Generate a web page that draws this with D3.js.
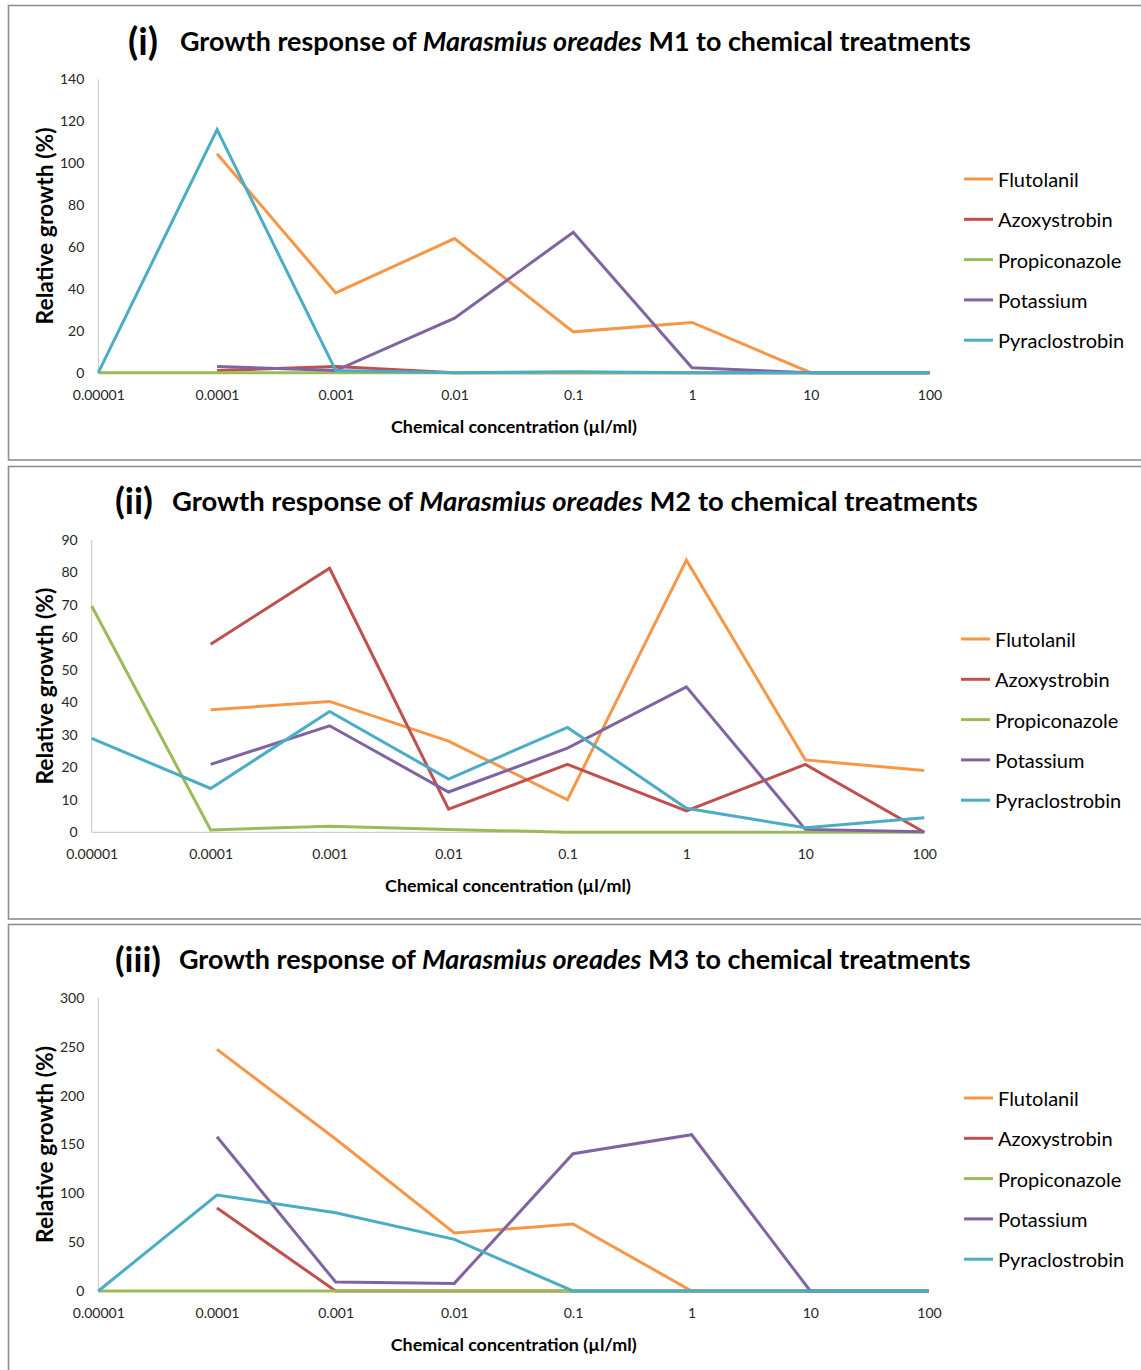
<!DOCTYPE html>
<html>
<head>
<meta charset="utf-8">
<script src="https://cdn.jsdelivr.net/npm/d3@7"></script>
<style>
  html, body { margin: 0; padding: 0; background: #fff; }
  svg { display: block; font-family: Lato, "Open Sans", sans-serif; }
</style>
</head>
<body>
<svg id="chart" width="1141" height="1370"></svg>
<script>
// ---------- DATA ----------
const categories = ["0.00001", "0.0001", "0.001", "0.01", "0.1", "1", "10", "100"];
const seriesNames = ["Flutolanil", "Azoxystrobin", "Propiconazole", "Potassium", "Pyraclostrobin"];
const seriesColors = ["#F79646", "#C0504D", "#9BBB59", "#8064A2", "#4BACC6"];

// M1
const m1Flutolanil     = [null, 104.5, 38.1, 64.0, 19.5, 24.0, 0, 0];
const m1Azoxystrobin   = [null, 1.0, 3.0, 0, 0, 0, 0, 0];
const m1Propiconazole  = [0, 0, 0, 0, 0, 0, 0, 0];
const m1Potassium      = [null, 3.0, 1.0, 26.0, 67.0, 2.4, 0, 0];
const m1Pyraclostrobin = [0, 116.0, 1.0, 0, 0.5, 0, 0, 0];
const m1Ticks = [0, 20, 40, 60, 80, 100, 120, 140];

// M2
const m2Flutolanil     = [null, 37.7, 40.3, 28.1, 10.0, 83.8, 22.3, 19.0];
const m2Azoxystrobin   = [null, 57.9, 81.3, 7.1, 20.9, 6.6, 20.9, 0];
const m2Propiconazole  = [69.7, 0.7, 1.9, 0.9, 0, 0, 0, 0];
const m2Potassium      = [null, 20.9, 32.8, 12.4, 25.9, 44.8, 0.9, 0.2];
const m2Pyraclostrobin = [28.9, 13.5, 37.2, 16.4, 32.3, 7.4, 1.4, 4.5];
const m2Ticks = [0, 10, 20, 30, 40, 50, 60, 70, 80, 90];

// M3
const m3Flutolanil     = [null, 247.4, 155.6, 59.4, 68.6, 0, 0, 0];
const m3Azoxystrobin   = [null, 85.0, 0, 0, 0, 0, 0, 0];
const m3Propiconazole  = [0, 0, 0, 0, 0, 0, 0, 0];
const m3Potassium      = [null, 158.0, 9.2, 7.8, 140.6, 160.0, 0, 0];
const m3Pyraclostrobin = [0, 98.3, 80.2, 52.9, 0, 0, 0, 0];
const m3Ticks = [0, 50, 100, 150, 200, 250, 300];

const panelPrefixes = ["(i)", "(ii)", "(iii)"];
const panelStrains = ["M1", "M2", "M3"];

// ---------- LAYOUT (code, not data) ----------
const panels = [
  { series: [m1Flutolanil, m1Azoxystrobin, m1Propiconazole, m1Potassium, m1Pyraclostrobin], ticks: m1Ticks,
    box: [8.5, 5.5, 460], x0: 98.3, x1: 929.5, yTop: 79.3, yBot: 372.7,
    prefixX: 128, prefixW: 30, titleX: 180, titleW: 791, titleY: 40, legX: 964, legY: 179 },
  { series: [m2Flutolanil, m2Azoxystrobin, m2Propiconazole, m2Potassium, m2Pyraclostrobin], ticks: m2Ticks,
    box: [8.5, 466.5, 919], x0: 91.7, x1: 924.3, yTop: 540, yBot: 832.3,
    prefixX: 115, prefixW: 38, titleX: 172, titleW: 806, titleY: 500, legX: 961, legY: 639 },
  { series: [m3Flutolanil, m3Azoxystrobin, m3Propiconazole, m3Potassium, m3Pyraclostrobin], ticks: m3Ticks,
    box: [8.5, 924.5, 1400], x0: 98.3, x1: 929, yTop: 998, yBot: 1291,
    prefixX: 115, prefixW: 46, titleX: 179, titleW: 792, titleY: 958, legX: 964, legY: 1098 }
];

const svg = d3.select("#chart");

function fitWidth(sel, target) {
  const node = sel.node();
  const fs = parseFloat(sel.attr("font-size"));
  const len = node.getComputedTextLength();
  if (len > 0) sel.attr("font-size", fs * target / len);
}

panels.forEach((p, pi) => {
  const g = svg.append("g");

  // border
  g.append("rect")
    .attr("x", p.box[0]).attr("y", p.box[1])
    .attr("width", 1160).attr("height", p.box[2] - p.box[1])
    .attr("fill", "none").attr("stroke", "#8f8f8f").attr("stroke-width", 1.6);

  const x = d3.scalePoint().domain(categories).range([p.x0, p.x1]);
  const y = d3.scaleLinear().domain([0, d3.max(p.ticks)]).range([p.yBot, p.yTop]);

  // axis lines
  g.append("line").attr("x1", p.x0).attr("x2", p.x0).attr("y1", p.yTop).attr("y2", p.yBot)
    .attr("stroke", "#c6c6c6").attr("stroke-width", 1);
  g.append("line").attr("x1", p.x0).attr("x2", p.x1).attr("y1", p.yBot).attr("y2", p.yBot)
    .attr("stroke", "#c6c6c6").attr("stroke-width", 1);

  // y axis
  const ya = g.append("g").call(d3.axisLeft(y).tickValues(p.ticks).tickSize(0).tickPadding(14))
    .attr("transform", `translate(${p.x0},0)`);
  ya.select(".domain").remove();
  ya.selectAll("text").attr("font-family", "Lato, 'Open Sans', sans-serif").attr("font-size", 14).attr("fill", "#262626");

  // x axis
  const xa = g.append("g").attr("transform", `translate(0,${p.yBot})`)
    .call(d3.axisBottom(x).tickSize(0).tickPadding(17));
  xa.select(".domain").remove();
  xa.selectAll("text").attr("font-family", "Lato, 'Open Sans', sans-serif").attr("font-size", 14).attr("fill", "#262626");

  // lines
  const line = d3.line()
    .defined(d => d.v !== null)
    .x(d => x(d.c))
    .y(d => y(d.v));
  p.series.forEach((vals, si) => {
    const pts = categories.map((c, i) => ({ c, v: vals[i] }));
    g.append("path").datum(pts)
      .attr("d", line)
      .attr("fill", "none")
      .attr("stroke", seriesColors[si])
      .attr("stroke-width", 3)
      .attr("stroke-linejoin", "miter")
      .attr("stroke-linecap", "butt");
  });

  // title
  const pre = g.append("text").attr("x", p.prefixX).attr("y", p.titleY)
    .attr("dominant-baseline", "central")
    .attr("font-size", 27).attr("font-weight", "bold").attr("fill", "#000")
    .text(panelPrefixes[pi]);
  fitWidth(pre, p.prefixW);
  const t = g.append("text").attr("x", p.titleX).attr("y", p.titleY)
    .attr("dominant-baseline", "central")
    .attr("font-size", 27).attr("font-weight", "bold").attr("fill", "#000");
  t.append("tspan").text("Growth response of ");
  t.append("tspan").attr("font-style", "italic").text("Marasmius oreades");
  t.append("tspan").text(` ${panelStrains[pi]} to chemical treatments`);
  fitWidth(t, p.titleW);

  // y label
  const yl = g.append("text")
    .attr("transform", `translate(44,${(p.yTop + p.yBot) / 2}) rotate(-90)`)
    .attr("text-anchor", "middle").attr("dominant-baseline", "central")
    .attr("font-size", 19).attr("font-weight", "bold").attr("fill", "#000")
    .text("Relative growth (%)");
  fitWidth(yl, 197);

  // x label
  const xl = g.append("text")
    .attr("x", (p.x0 + p.x1) / 2).attr("y", p.yBot + 53)
    .attr("text-anchor", "middle").attr("dominant-baseline", "central")
    .attr("font-size", 19).attr("font-weight", "bold").attr("fill", "#000")
    .text("Chemical concentration (\u00b5l/ml)");
  fitWidth(xl, 246);

  // legend
  seriesNames.forEach((name, si) => {
    const ly = p.legY + si * 40.3;
    g.append("line").attr("x1", p.legX).attr("x2", p.legX + 29).attr("y1", ly).attr("y2", ly)
      .attr("stroke", seriesColors[si]).attr("stroke-width", 3);
    g.append("text").attr("x", p.legX + 34).attr("y", ly)
      .attr("dominant-baseline", "central")
      .attr("font-size", 20).attr("fill", "#000")
      .text(name);
  });
});
</script>
</body>
</html>
